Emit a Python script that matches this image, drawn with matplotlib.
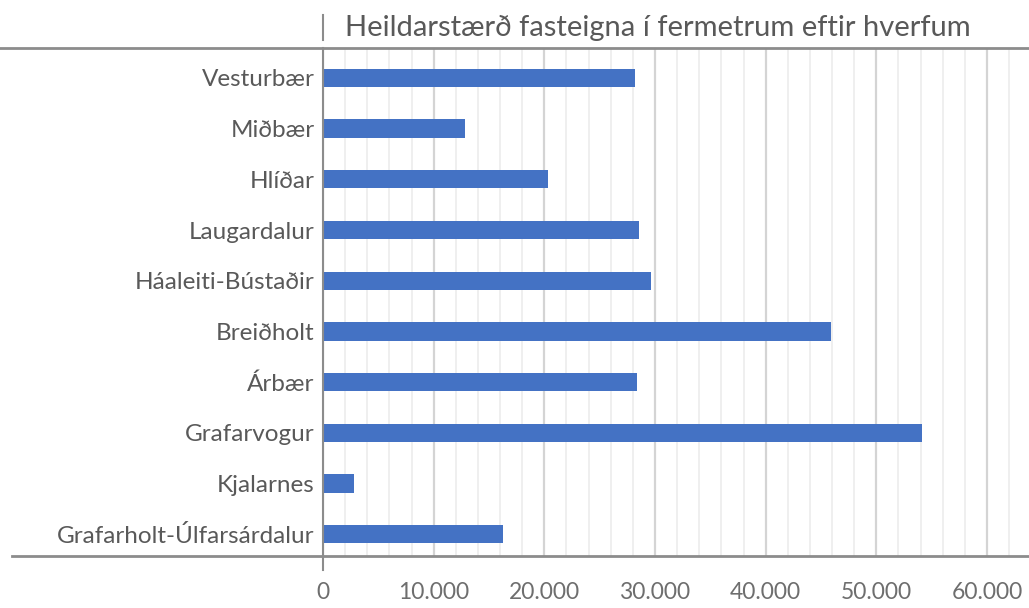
import matplotlib
matplotlib.use("Agg")
import matplotlib.pyplot as plt
from matplotlib.lines import Line2D
from matplotlib.ticker import FuncFormatter, MultipleLocator

plt.rcParams['font.family'] = ['Lato', 'DejaVu Sans']

hverfi = ['Vesturbær', 'Miðbær', 'Hlíðar', 'Laugardalur', 'Háaleiti-Bústaðir',
          'Breiðholt', 'Árbær', 'Grafarvogur', 'Kjalarnes', 'Grafarholt-Úlfarsárdalur']
fermetrar = [28200, 12800, 20300, 28600, 29600, 45900, 28400, 54100, 2800, 16300]

W, H = 1029, 608
fig = plt.figure(figsize=(W / 100, H / 100), dpi=100)

# axes placed in pixel terms
x0, x1 = 323, 1029
y_top, y_bot = 48, 556
ax = fig.add_axes([x0 / W, (H - y_bot) / H, (x1 - x0) / W, (y_bot - y_top) / H])

pos = list(range(len(hverfi)))
ax.barh(pos, fermetrar, height=0.36, color='#4472C4', zorder=3)

ax.set_xlim(0, 63800)
ax.set_ylim(9.43, -0.59)
ax.set_yticks(pos)
ax.set_yticklabels(hverfi)

ax.xaxis.set_major_locator(MultipleLocator(10000))
ax.xaxis.set_minor_locator(MultipleLocator(2000))
ax.xaxis.set_major_formatter(FuncFormatter(lambda v, p: f"{int(v):,}".replace(",", ".")))
ax.grid(axis='x', which='major', color='#d4d4d4', linewidth=1.6, zorder=0)
ax.grid(axis='x', which='minor', color='#efefef', linewidth=1.4, zorder=0)
ax.tick_params(axis='both', which='both', length=0)
ax.tick_params(axis='x', labelsize=16.5, labelcolor='#6e6e6e', pad=19)
ax.tick_params(axis='y', labelsize=17.5, labelcolor='#595959', pad=6)

for s in ax.spines.values():
    s.set_visible(False)

lc = '#8c8c8c'
def fline(xa, xb, ya, yb, lw=2.0):
    fig.add_artist(Line2D([xa / W, xb / W], [1 - ya / H, 1 - yb / H],
                          color=lc, linewidth=lw, transform=fig.transFigure, zorder=5))

fline(0, W, y_top, y_top)          # top rule
fline(12, W, y_bot, y_bot)         # bottom axis
fline(x0, x0, y_top, y_bot + 14, lw=1.5)   # value axis at 0 with tick
fline(x0, x0, 15, 40, lw=1.5)      # small mark beside title

fig.text(345 / W, 1 - 28 / H, 'Heildarstærð fasteigna í fermetrum eftir hverfum',
         fontsize=21, color='#595959', ha='left', va='center')

fig.savefig('out.png', dpi=100)
